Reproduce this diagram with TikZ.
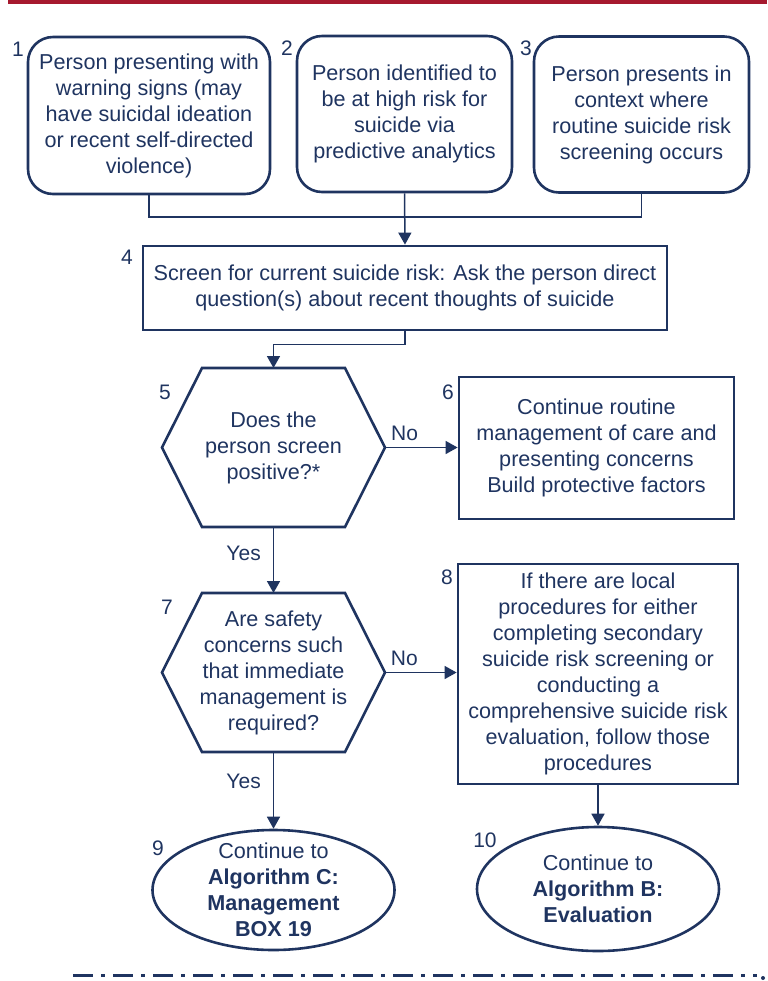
\documentclass[tikz,border=0pt]{standalone}
\usepackage{fontspec}
\setmainfont{Liberation Sans}
\usepackage{tikz}
\usetikzlibrary{
    calc,
    positioning,
    arrows.meta,
    shapes.geometric
}
\definecolor{navy}{RGB}{31,52,96}
\definecolor{rulered}{RGB}{166,25,46}
\tikzset{
    line/.style = {
        draw = navy,
        line width = 0.75pt
    },
    arrow/.style = {
        line,
        -{Triangle[length=6pt, width=6.5pt]}
    },
    % Text of a step:
    chart text/.style = {
        text = navy,
        font = \fontsize{10.8}{13}\selectfont,
        align = center,
        inner sep = 0pt
    },
    % Entry point (rounded):
    start box/.style = {
        chart text,
        draw = navy,
        line width = 1.3pt,
        rounded corners = 12.5pt,
        minimum width = 107.5pt,
        minimum height = 78pt
    },
    % Action:
    action box/.style = {
        chart text,
        draw = navy,
        line width = 1.4pt,
        rectangle
    },
    % Question (hexagon drawn round it):
    decision node/.style = {
        chart text,
        rectangle,
        outer sep = 0pt,
        minimum width = 111.5pt,
        minimum height = 79.5pt
    },
    decision line/.style = {
        draw = navy,
        line width = 1.3pt,
        line join = miter
    },
    % Exit to another algorithm:
    exit node/.style = {
        chart text,
        ellipse,
        draw = navy,
        line width = 1.3pt,
        inner ysep = -6pt,
        minimum width = 121pt
    },
    step number/.style = {
        text = navy,
        font = \fontsize{10.5}{12}\selectfont,
        inner sep = 0pt
    },
    answer/.style = {
        step number
    }
}

\begin{document}
\begin{tikzpicture}[x=0.5pt, y=-0.5pt]
    \useasboundingbox (0, 0) rectangle (767, 981);
    \fill [rulered] (8, 0) rectangle (767, 4);

    % entry points
    \node [start box, minimum width=121pt, minimum height=78.5pt] (warn) at (149, 115.5)
        {Person presenting with\\warning signs (may\\have suicidal ideation\\or recent self-directed\\violence)};
    \node [start box] (predict) at (404.5, 114)
        {Person identified to\\be at high risk for\\suicide via\\predictive analytics};
    \node [start box] (routine) at (641.5, 114.5)
        {Person presents in\\context where\\routine suicide risk\\screening occurs};
    \node [action box, minimum width=262pt, minimum height=42pt] (screen) at (405, 288)
        {Screen for current suicide risk: Ask the person direct\\question(s) about recent thoughts of suicide};

    % questions
    \node [decision node] (positive) at (273.5, 447.5)
        {Does the\\person screen\\positive?*};
    \node [action box, minimum width=137.5pt, minimum height=71pt] (care) at (596.5, 448)
        {Continue routine\\management of care and\\presenting concerns\\Build protective factors};
    \node [decision node] (safety) at (273.5, 672.5)
        {Are safety\\concerns such\\that immediate\\management is\\required?};
    \node [action box, minimum width=140pt, minimum height=110pt] (local) at (598, 674)
        {If there are local\\procedures for either\\completing secondary\\suicide risk screening or\\conducting a\\comprehensive suicide risk\\evaluation, follow those\\procedures};
    \foreach \q in {positive, safety} {
        \draw [decision line] (\q.west)
            -- ($(\q.north west)+(40, 0)$)
            -- ($(\q.north east)+(-40, 0)$)
            -- (\q.east)
            -- ($(\q.south east)+(-40, 0)$)
            -- ($(\q.south west)+(40, 0)$)
            -- cycle;
    }

    % exits
    \node [exit node, minimum height=60pt] (algc) at (273.5, 890)
        {Continue to\\\textbf{Algorithm C:}\\\textbf{Management}\\\textbf{BOX 19}};
    \node [exit node, minimum height=62pt] (algb) at (598, 889)
        {Continue to\\\textbf{Algorithm B:}\\\textbf{Evaluation}};

    % box numbers
    \node [step number] (num1) at (18, 49) {1};
    \node [step number] (num2) at (287, 48) {2};
    \node [step number] (num3) at (526, 48) {3};
    \node [step number] (num4) at (127, 257) {4};
    \node [step number] (num5) at (165, 392) {5};
    \node [step number] (num6) at (448, 392) {6};
    \node [step number] (num7) at (167, 607) {7};
    \node [step number] (num8) at (447, 577) {8};
    \node [step number] (num9) at (158, 848) {9};
    \node [step number] (num10) at (485, 840) {10};

    % connectors
    \coordinate (join) at (404.5, 217);
    \draw [line] (warn.south) |- (join) -| (routine.south);
    \draw [arrow] (predict.south) -- (screen.north);
    \draw [arrow] (screen.south) -- ++(0, 13) -| (positive.north);
    \draw [arrow] (positive.east) -- (care.west |- positive.east)
        node [answer, pos=0.27, above=3pt] (no5) {No};
    \draw [arrow] (positive.south) -- (safety.north)
        node [answer, pos=0.4, left=6pt] (yes5) {Yes};
    \draw [arrow] (safety.east) -- (local.west |- safety.east)
        node [answer, pos=0.27, above=3pt] (no7) {No};
    \draw [arrow] (safety.south) -- (algc.north)
        node [answer, pos=0.38, left=6pt] (yes7) {Yes};
    \draw [arrow] (local.south) -- (algb.north);

    % footer rule
    \draw [navy, line width=1.5pt, dash pattern=on 10pt off 4pt on 2pt off 4pt] (73, 975) -- (757, 975);
    \fill [navy] (763, 978) circle (1pt);
\end{tikzpicture}
\end{document}
